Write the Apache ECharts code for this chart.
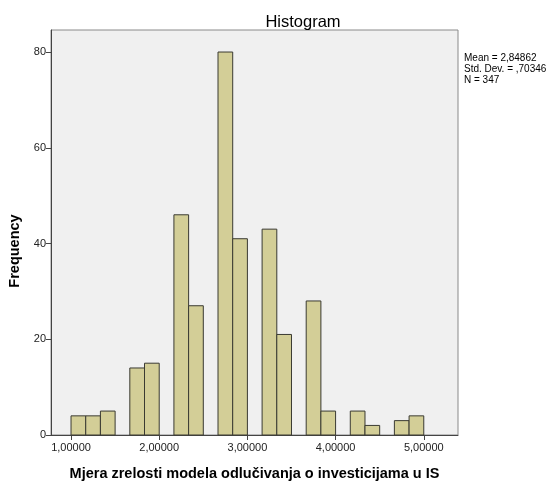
<!DOCTYPE html>
<html>
<head>
<meta charset="utf-8">
<script src="https://cdn.jsdelivr.net/npm/echarts@6/dist/echarts.min.js"></script>
<style>
  html, body { margin: 0; padding: 0; background: #fff; }
  #chart { width: 555px; height: 481px; }
</style>
</head>
<body>
<div id="chart"></div>
<script>
// lower edge of each non-empty bin (bin width 1/6)
var binStart = [1.0000, 1.1667, 1.3333, 1.6667, 1.8333, 2.1667, 2.3333, 2.6667, 2.8333,
  3.1667, 3.3333, 3.6667, 3.8333, 4.1667, 4.3333, 4.6667, 4.8333]
var binWidth = 0.16667
var counts = [4, 4, 5, 14, 15, 46, 27, 80, 41, 43, 21, 28, 5, 5, 2, 3, 4]
var xTicks = [1, 2, 3, 4, 5]
var yTicks = [0, 20, 40, 60, 80]
var statLines = ['Mean = 2,84862', 'Std. Dev. = ,70346', 'N = 347']

var font = '"Liberation Sans", Arial, sans-serif'
var data = []
for (var i = 0; i < binStart.length; i++) {
  data.push([binStart[i], binStart[i] + binWidth, counts[i]])
}

var chart = echarts.init(document.getElementById('chart'))
chart.setOption({
  animation: false,
  backgroundColor: '#fff',
  title: {
    text: 'Histogram',
    left: 298,
    textAlign: 'center',
    top: 9,
    textStyle: { fontFamily: font, fontSize: 16.5, fontWeight: 'normal', color: '#000' }
  },
  grid: {
    left: 51, right: 97, top: 30, bottom: 46,
    containLabel: false,
    outerBoundsMode: 'none',
    show: true,
    backgroundColor: '#F0F0F0',
    borderColor: '#8a8a8a',
    borderWidth: 1
  },
  xAxis: {
    type: 'value',
    min: 0.773,
    max: 5.388,
    name: 'Mjera zrelosti modela odlučivanja o investicijama u IS',
    nameLocation: 'middle',
    nameGap: 31,
    nameTextStyle: { fontFamily: font, fontSize: 14.5, fontWeight: 'bold', color: '#000' },
    axisLine: { show: true, lineStyle: { color: '#444', width: 1 } },
    axisTick: { show: true, customValues: xTicks, length: 5, lineStyle: { color: '#444' } },
    axisLabel: {
      customValues: xTicks,
      fontFamily: font, fontSize: 11, color: '#222', margin: 7,
      formatter: function (v) { return v.toFixed(5).replace('.', ',') }
    },
    splitLine: { show: false }
  },
  yAxis: {
    type: 'value',
    min: 0,
    max: 84.6,
    axisLine: { show: true, lineStyle: { color: '#444', width: 1 } },
    axisTick: { show: true, customValues: yTicks, length: 5, lineStyle: { color: '#444' } },
    axisLabel: { customValues: yTicks, fontFamily: font, fontSize: 11, color: '#222', margin: 5 },
    splitLine: { show: false }
  },
  graphic: [{
    type: 'text',
    left: 464,
    top: 53,
    style: {
      text: statLines.join('\n'),
      font: '10px ' + font,
      fill: '#000',
      lineHeight: 11
    }
  }, {
    // y axis title, SPSS puts it a bit below the plot middle
    type: 'text',
    x: 15,
    y: 251,
    rotation: Math.PI / 2,
    style: {
      text: 'Frequency',
      font: 'bold 14.5px ' + font,
      fill: '#000',
      align: 'center',
      verticalAlign: 'middle'
    }
  }],
  series: [{
    type: 'custom',
    encode: { x: [0, 1], y: 2 },
    data: data,
    renderItem: function (params, api) {
      var p0 = api.coord([api.value(0), api.value(2)])
      var p1 = api.coord([api.value(1), 0])
      return {
        type: 'rect',
        shape: { x: p0[0], y: p0[1], width: p1[0] - p0[0], height: p1[1] - p0[1] },
        style: { fill: '#D3CE97', stroke: '#3a3a32', lineWidth: 1 }
      }
    }
  }]
})
</script>
</body>
</html>
